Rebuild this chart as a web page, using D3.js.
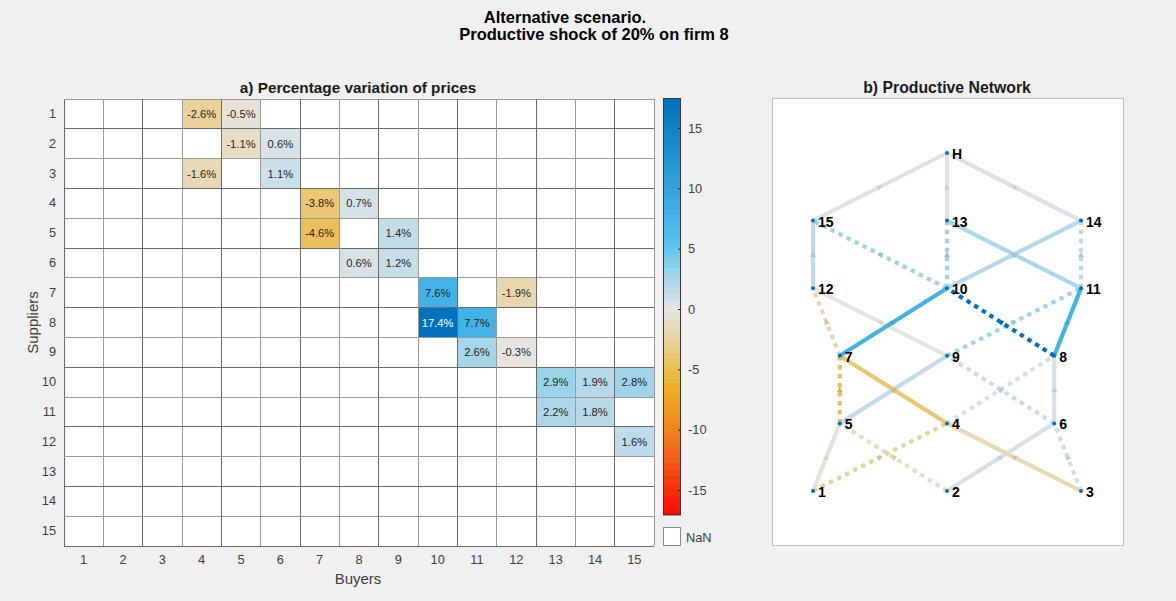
<!DOCTYPE html>
<html><head><meta charset="utf-8">
<script src="https://cdn.jsdelivr.net/npm/d3@7"></script>
<style>
body{margin:0;background:#f0f0f0;}
svg{display:block;font-family:"Liberation Sans",Arial,Helvetica,sans-serif;}
</style></head>
<body>
<svg id="c" width="1176" height="601"></svg>
<script>
// ---------- data ----------
const firms = d3.range(1, 16);               // suppliers (rows) and buyers (cols)
const tickLabels = firms.map(String);
// non-NaN cells of the price-variation matrix: [supplier, buyer, value %]
const supplierIdx = [1, 1, 2, 2, 3, 3, 4, 4, 5, 5, 6, 6, 7, 7, 8, 8, 9, 9, 10, 10, 10, 11, 11, 12];
const buyerIdx    = [4, 5, 5, 6, 4, 6, 7, 8, 7, 9, 8, 9, 10, 12, 10, 11, 11, 12, 13, 14, 15, 13, 14, 15];
const priceVar    = [-2.6, -0.5, -1.1, 0.6, -1.6, 1.1, -3.8, 0.7, -4.6, 1.4, 0.6, 1.2, 7.6, -1.9, 17.4, 7.7, 2.6, -0.3, 2.9, 1.9, 2.8, 2.2, 1.8, 1.6];
// edges from top layer firms to households (H)
const hSources = [13, 14, 15];
const hValues  = [0.4, 0.4, 0.4];
// line style of each network edge (same order as the cells above)
const edgeDotted = [1, 0, 1, 0, 0, 1, 0, 1, 1, 0, 0, 1, 0, 1, 1, 0, 1, 0, 1, 0, 1, 0, 1, 0];
const colorbarTicks = [-15, -10, -5, 0, 5, 10, 15];
// network layout (graph coordinates)
const nodeNames = ["1","2","3","4","5","6","7","8","9","10","11","12","13","14","15","H"];
const nodeGX = [1, 2, 3, 2, 1.2, 2.8, 1.2, 2.8, 2, 2, 3, 1, 2, 3, 1, 2];
const nodeGY = [0, 0, 0, 1, 1, 1, 2, 2, 2, 3, 3, 3, 4, 4, 4, 5];

// ---------- colour map ----------
const cmap = d3.scaleLinear()
  .domain([-17.4, -11, -6.5, 0, 6, 17.4])
  .range(["#ff0000", "#f4741c", "#edb120", "#e6e6e6", "#4dbeee", "#0072bd"])
  .interpolate(d3.interpolateRgb).clamp(true);
const fmtNum = v => (v < 0 ? "-" : "") + Math.abs(v).toFixed(1);
const fmtInt = v => (v < 0 ? "-" : "") + Math.abs(v);

const svg = d3.select("#c");
const txt = "#262626";
const FONT = "'Liberation Sans',Arial,sans-serif";

// ---------- titles ----------
svg.append("text").attr("x", 565).attr("y", 23).attr("text-anchor", "middle")
  .attr("font-weight", "bold").attr("font-size", 16.5).attr("fill", "#000").text("Alternative scenario.");
svg.append("text").attr("x", 594).attr("y", 40).attr("text-anchor", "middle")
  .attr("font-weight", "bold").attr("font-size", 16.5).attr("fill", "#000").text("Productive shock of 20% on firm 8");

// ---------- heatmap ----------
const hm = {left: 64, right: 654, top: 99, bottom: 546};
const x = d3.scaleBand().domain(firms).range([hm.left, hm.right]);
const y = d3.scaleBand().domain(firms).range([hm.top, hm.bottom]);

svg.append("text").attr("x", 358).attr("y", 93).attr("text-anchor", "middle")
  .attr("font-weight", "bold").attr("font-size", 15.3).attr("fill", "#1a1a1a").text("a) Percentage variation of prices");

const g = svg.append("g");
g.append("rect").attr("x", hm.left).attr("y", hm.top).attr("width", hm.right - hm.left)
  .attr("height", hm.bottom - hm.top).attr("fill", "#fff");

const cells = supplierIdx.map((s, i) => ({s, b: buyerIdx[i], v: priceVar[i]}));
g.selectAll("rect.cell").data(cells).join("rect").attr("class", "cell")
  .attr("x", d => x(d.b)).attr("y", d => y(d.s))
  .attr("width", x.bandwidth()).attr("height", y.bandwidth())
  .attr("fill", d => cmap(d.v));

// grid
firms.concat([16]).forEach((f, i) => {
  const xx = i < 15 ? x(f) : hm.right;
  const yy = i < 15 ? y(f) : hm.bottom;
  g.append("line").attr("x1", xx).attr("x2", xx).attr("y1", hm.top).attr("y2", hm.bottom)
    .attr("stroke", i % 2 ? "#9a9a9a" : "#6a6a6a").attr("stroke-width", 1).attr("shape-rendering", "crispEdges");
  g.append("line").attr("y1", yy).attr("y2", yy).attr("x1", hm.left).attr("x2", hm.right)
    .attr("stroke", i % 2 ? "#6a6a6a" : "#9a9a9a").attr("stroke-width", 1).attr("shape-rendering", "crispEdges");
});

g.selectAll("text.cl").data(cells).join("text").attr("class", "cl")
  .attr("x", d => x(d.b) + x.bandwidth() / 2).attr("y", d => y(d.s) + y.bandwidth() / 2)
  .attr("text-anchor", "middle").attr("dominant-baseline", "central")
  .attr("font-size", 11.2).attr("fill", d => d.v > 12 ? "#fff" : txt)
  .text(d => fmtNum(d.v) + "%");

// axes labels
const xAxis = d3.axisBottom(x).tickSize(0).tickPadding(9).tickFormat((d, i) => tickLabels[i]);
const yAxis = d3.axisLeft(y).tickSize(0).tickPadding(8).tickFormat((d, i) => tickLabels[i]);
const gx = svg.append("g").attr("transform", `translate(0,${hm.bottom})`).call(xAxis);
const gy = svg.append("g").attr("transform", `translate(${hm.left},0)`).call(yAxis);
[gx, gy].forEach(a => {
  a.select(".domain").remove();
  a.selectAll("text").attr("font-size", 12.8).attr("fill", "#404040").attr("font-family", FONT);
});
svg.append("text").attr("x", 358).attr("y", 584).attr("text-anchor", "middle")
  .attr("font-size", 15).attr("fill", "#404040").text("Buyers");
svg.append("text").attr("transform", `translate(38,${(hm.top + hm.bottom) / 2}) rotate(-90)`)
  .attr("text-anchor", "middle").attr("font-size", 15).attr("fill", "#404040").text("Suppliers");

// ---------- colorbar ----------
const cb = {x: 663, w: 18, top: 98, bottom: 515};
const cy = d3.scaleLinear().domain([-15, 15]).range([490, 128]);
const vTop = cy.invert(cb.top), vBot = cy.invert(cb.bottom);
const nBands = 64;
const bandVals = d3.range(nBands).map(i => vBot + (i + 0.5) * (vTop - vBot) / nBands);
const bandH = (cb.bottom - cb.top) / nBands;
svg.append("g").selectAll("rect").data(bandVals).join("rect")
  .attr("x", cb.x).attr("width", cb.w)
  .attr("y", (d, i) => cb.bottom - (i + 1) * bandH).attr("height", bandH + 0.5)
  .attr("fill", d => cmap(d));
svg.append("rect").attr("x", cb.x + 0.5).attr("y", cb.top + 0.5).attr("width", cb.w - 1)
  .attr("height", cb.bottom - cb.top - 1).attr("fill", "none").attr("stroke", "#3a3a3a").attr("stroke-width", 1);
const cax = d3.axisRight(cy).tickValues(colorbarTicks).tickSize(-3).tickPadding(7).tickFormat(fmtInt);
const gc = svg.append("g").attr("transform", `translate(${cb.x + cb.w},0)`).call(cax);
gc.select(".domain").remove();
gc.selectAll("line").attr("stroke", "#262626");
gc.selectAll("text").attr("font-size", 12.8).attr("fill", "#404040").attr("font-family", FONT);
// NaN box
svg.append("rect").attr("x", cb.x + 0.5).attr("y", 527.5).attr("width", cb.w - 1).attr("height", 18)
  .attr("fill", "#fff").attr("stroke", "#8a8a8a");
svg.append("text").attr("x", cb.x + cb.w + 5).attr("y", 537).attr("dominant-baseline", "central")
  .attr("font-size", 12.8).attr("fill", "#404040").text("NaN");

// ---------- network ----------
const np = {left: 772, right: 1123, top: 98, bottom: 545};
svg.append("rect").attr("x", np.left + 0.5).attr("y", np.top + 0.5).attr("width", np.right - np.left)
  .attr("height", np.bottom - np.top).attr("fill", "#fff").attr("stroke", "#bdbdbd");
svg.append("text").attr("x", 947).attr("y", 93).attr("text-anchor", "middle")
  .attr("font-weight", "bold").attr("font-size", 15.8).attr("fill", "#1a1a1a").text("b) Productive Network");

const nx = d3.scaleLinear().domain([1, 3]).range([813, 1081]);
const ny = d3.scaleLinear().domain([0, 5]).range([491, 153]);
const nodes = nodeNames.map((n, i) => ({n, px: nx(nodeGX[i]), py: ny(nodeGY[i])}));
const nodeOf = name => nodes[nodeNames.indexOf(String(name))];

const edges = cells.map((c, i) => ({a: nodeOf(c.s), b: nodeOf(c.b), v: c.v, dot: edgeDotted[i]}))
  .concat(hSources.map((s, i) => ({a: nodeOf(s), b: nodeOf("H"), v: hValues[i], dot: 0, h: true})));
edges.sort((p, q) => Math.abs(p.v) - Math.abs(q.v));

const ne = svg.append("g");
ne.selectAll("line").data(edges).join("line")
  .attr("x1", d => d.a.px).attr("y1", d => d.a.py).attr("x2", d => d.b.px).attr("y2", d => d.b.py)
  .attr("stroke", d => d.h ? "#dbe3e8" : cmap(d.v))
  .attr("stroke-width", 4.2)
  .attr("stroke-dasharray", d => d.dot ? "4.5,4.5" : null);
// small arrowheads at the middle of each edge
ne.selectAll("path").data(edges).join("path")
  .attr("d", d => {
    const mx = (d.a.px + d.b.px) / 2, my = (d.a.py + d.b.py) / 2;
    const ang = Math.atan2(d.b.py - d.a.py, d.b.px - d.a.px);
    const L = 5, W = 3;
    const tip = [mx + Math.cos(ang) * L / 2, my + Math.sin(ang) * L / 2];
    const bx = mx - Math.cos(ang) * L / 2, by = my - Math.sin(ang) * L / 2;
    const p1 = [bx + Math.cos(ang + Math.PI / 2) * W, by + Math.sin(ang + Math.PI / 2) * W];
    const p2 = [bx - Math.cos(ang + Math.PI / 2) * W, by - Math.sin(ang + Math.PI / 2) * W];
    return `M${tip}L${p1}L${p2}Z`;
  })
  .attr("fill", d => d3.color(d.h ? "#dbe3e8" : cmap(d.v)).darker(0.25));

ne.selectAll("circle").data(nodes).join("circle")
  .attr("cx", d => d.px).attr("cy", d => d.py).attr("r", 2).attr("fill", "#0072bd");
ne.selectAll("text").data(nodes).join("text")
  .attr("x", d => d.px + 5).attr("y", d => d.py + 1).attr("dominant-baseline", "central")
  .attr("font-weight", "bold").attr("font-size", 14).attr("fill", "#000").text(d => d.n);
</script>
</body></html>
